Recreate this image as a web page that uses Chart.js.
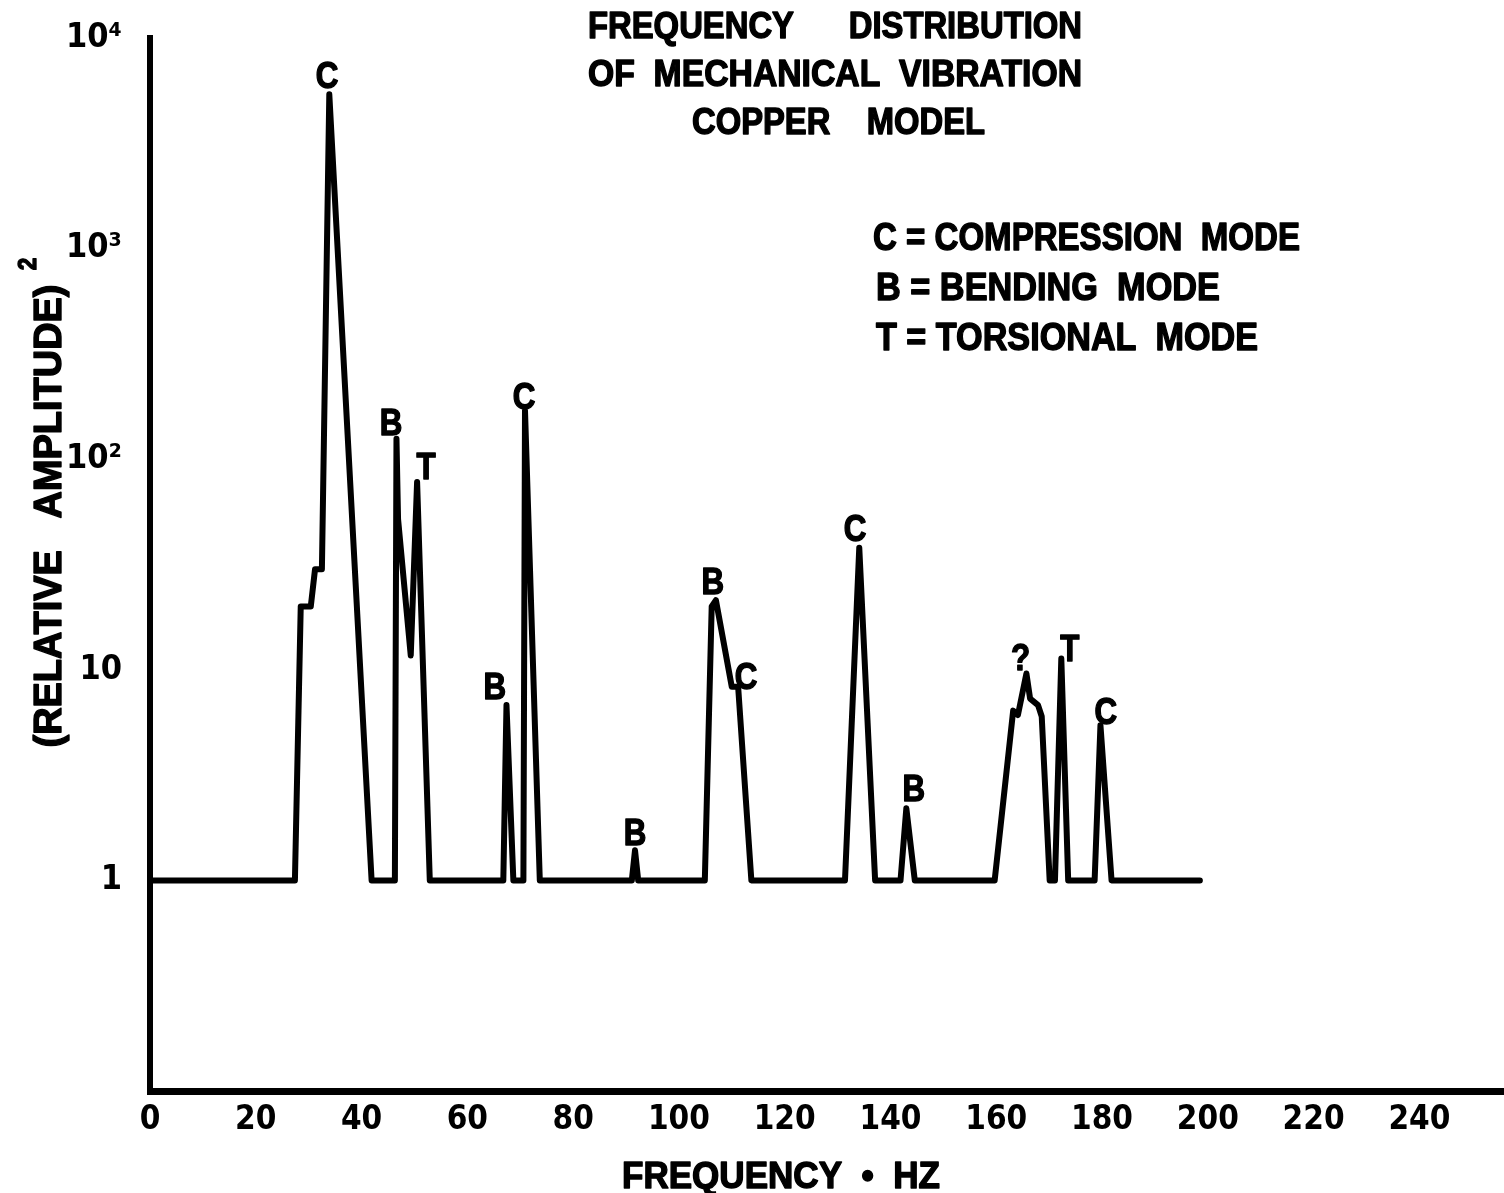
<!DOCTYPE html>
<html>
<head>
<meta charset="utf-8">
<script src="https://cdn.jsdelivr.net/npm/chart.js@4.4.0/dist/chart.umd.min.js"></script>
<style>
  html, body { margin: 0; padding: 0; background: #fff; }
  #chart { display: block; }
</style>
</head>
<body>
<canvas id="chart" width="1504" height="1193"></canvas>
<script>
// Break points of the traced curve: frequency (Hz) and (relative amplitude)^2
const freqHz = [0, 27.4, 28.5, 30.4, 31.2, 32.5, 33.9, 41.9,
  46.3, 46.6, 46.9, 49.3, 50.5, 52.9,
  66.8, 67.4, 68.7, 70.6, 70.9, 73.7,
  91.1, 91.7, 92.3,
  104.9, 106.2, 107.0, 110.0, 111.2, 113.7,
  131.4, 134.1, 137.1,
  141.9, 143.0, 144.6,
  159.7, 163.2, 164.1, 165.7, 166.4, 167.9, 168.6, 170.1,
  171.1, 172.3, 173.6,
  178.6, 179.7, 181.8,
  198.5];
const amplitude = [1, 1, 20, 20, 30, 30, 5400, 1,
  1, 125, 52, 11.7, 78, 1,
  1, 6.8, 1, 1, 170, 1,
  1, 1.39, 1,
  1, 20, 21.4, 8.3, 8.3, 1,
  1, 38, 1,
  1, 2.2, 1,
  1, 6.4, 6.1, 9.6, 7.3, 6.8, 6.0, 1,
  1, 11.3, 1,
  1, 5.45, 1,
  1];

// Mode letters written on the plot (position in data units)
const modeLetters = ['C', 'B', 'T', 'B', 'C', 'B', 'B', 'C', 'C', 'B', '?', 'T', 'C'];
const modeFreq = [33.5, 45.6, 52.2, 65.2, 70.7, 91.7, 106.4, 112.7, 133.3, 144.4, 164.6, 173.9, 180.7];
const modeAmp = [6670, 150, 93, 8.4, 199, 1.69, 26.4, 9.3, 47, 2.74, 11.5, 12.7, 6.35];

// Axis ticks
const xTicks = [0, 20, 40, 60, 80, 100, 120, 140, 160, 180, 200, 220, 240];
const yTicks = [1, 10, 100, 1000, 10000];
const yTickLabels = ['1', '10', '10²', '10³', '10⁴'];

const titleLines = ['FREQUENCY      DISTRIBUTION', 'OF  MECHANICAL  VIBRATION', 'COPPER    MODEL'];
const legendLines = ['C = COMPRESSION  MODE', 'B = BENDING  MODE', 'T = TORSIONAL  MODE'];

const FONT = '"Liberation Sans", Arial, sans-serif';
const NARROW = '"Liberation Sans Narrow", "DejaVu Sans Condensed", "Liberation Sans", sans-serif';

// draws bold caps centred vertically on y, squeezed to a width (or a fixed ratio)
function squeezeText(ctx, text, x, y, size, width, align) {
  ctx.font = 'bold ' + size + 'px ' + FONT;
  const w = ctx.measureText(text).width;
  const sx = width ? width / w : 0.87;
  ctx.save();
  ctx.translate(x, y);
  ctx.scale(sx, 1);
  ctx.textAlign = align || 'left';
  ctx.textBaseline = 'alphabetic';
  ctx.fillStyle = '#000';
  ctx.strokeStyle = '#000';
  ctx.lineWidth = 1.4;
  ctx.lineJoin = 'round';
  ctx.fillText(text, 0, size * 0.358);
  ctx.strokeText(text, 0, size * 0.358);
  ctx.restore();
}

const paperText = {
  id: 'paperText',
  afterDraw(chart) {
    const ctx = chart.ctx;
    const xs = chart.scales.x, ys = chart.scales.y;

    // title
    squeezeText(ctx, titleLines[0], 588, 25, 36, 494);
    squeezeText(ctx, titleLines[1], 588, 73, 36, 494);
    squeezeText(ctx, titleLines[2], 692, 121, 36, 293);

    // key
    squeezeText(ctx, legendLines[0], 873, 236, 38, 427);
    squeezeText(ctx, legendLines[1], 876, 286, 38, 344);
    squeezeText(ctx, legendLines[2], 876, 336, 38, 382);

    // axis titles
    squeezeText(ctx, 'FREQUENCY  •  HZ', 622, 1175, 36, 318);
    ctx.save();
    ctx.translate(47, 516);
    ctx.rotate(-Math.PI / 2);
    squeezeText(ctx, '(RELATIVE   AMPLITUDE)', 0, 0, 38, 463, 'center');
    ctx.restore();
    ctx.save();
    ctx.translate(27, 264);
    ctx.rotate(-Math.PI / 2);
    squeezeText(ctx, '2', 0, 0, 26, null, 'center');
    ctx.restore();

    // mode letters
    modeLetters.forEach((t, i) => {
      squeezeText(ctx, t, xs.getPixelForValue(modeFreq[i]), ys.getPixelForValue(modeAmp[i]), 36, null, 'center');
    });
  }
};

new Chart(document.getElementById('chart'), {
  type: 'line',
  data: {
    datasets: [{
      data: freqHz.map((f, i) => ({ x: f, y: amplitude[i] })),
      borderColor: '#000',
      borderWidth: 6,
      borderJoinStyle: 'round',
      borderCapStyle: 'round',
      pointRadius: 0,
      tension: 0,
      fill: false
    }]
  },
  options: {
    responsive: false,
    animation: false,
    layout: { padding: { left: 0, top: 38, right: 0, bottom: 42 } },
    plugins: {
      legend: { display: false },
      tooltip: { enabled: false }
    },
    scales: {
      x: {
        type: 'linear',
        min: 0,
        max: 256,
        grid: { display: false, drawTicks: false },
        border: { color: '#000', width: 7 },
        afterBuildTicks: s => { s.ticks = xTicks.map(v => ({ value: v })); },
        afterFit: s => { s.height = 60; },
        ticks: {
          color: '#000',
          font: { family: NARROW, size: 33, weight: 'bold' },
          padding: 10,
          maxRotation: 0,
          autoSkip: false
        }
      },
      y: {
        type: 'logarithmic',
        min: 0.1,
        max: 10000,
        grid: { display: false, drawTicks: false },
        border: { color: '#000', width: 6 },
        afterBuildTicks: s => { s.ticks = yTicks.map(v => ({ value: v })); },
        afterFit: s => {
          s.width = 150;
          // keep the tick padding from pushing the plot area down
          s.paddingTop = 0;
          s.paddingBottom = 0;
        },
        ticks: {
          color: '#000',
          font: { family: NARROW, size: 34, weight: 'bold' },
          padding: 28,
          autoSkip: false,
          callback: v => {
            const i = yTicks.indexOf(v);
            return i < 0 ? '' : yTickLabels[i];
          }
        }
      }
    }
  },
  plugins: [paperText]
});
</script>
</body>
</html>
